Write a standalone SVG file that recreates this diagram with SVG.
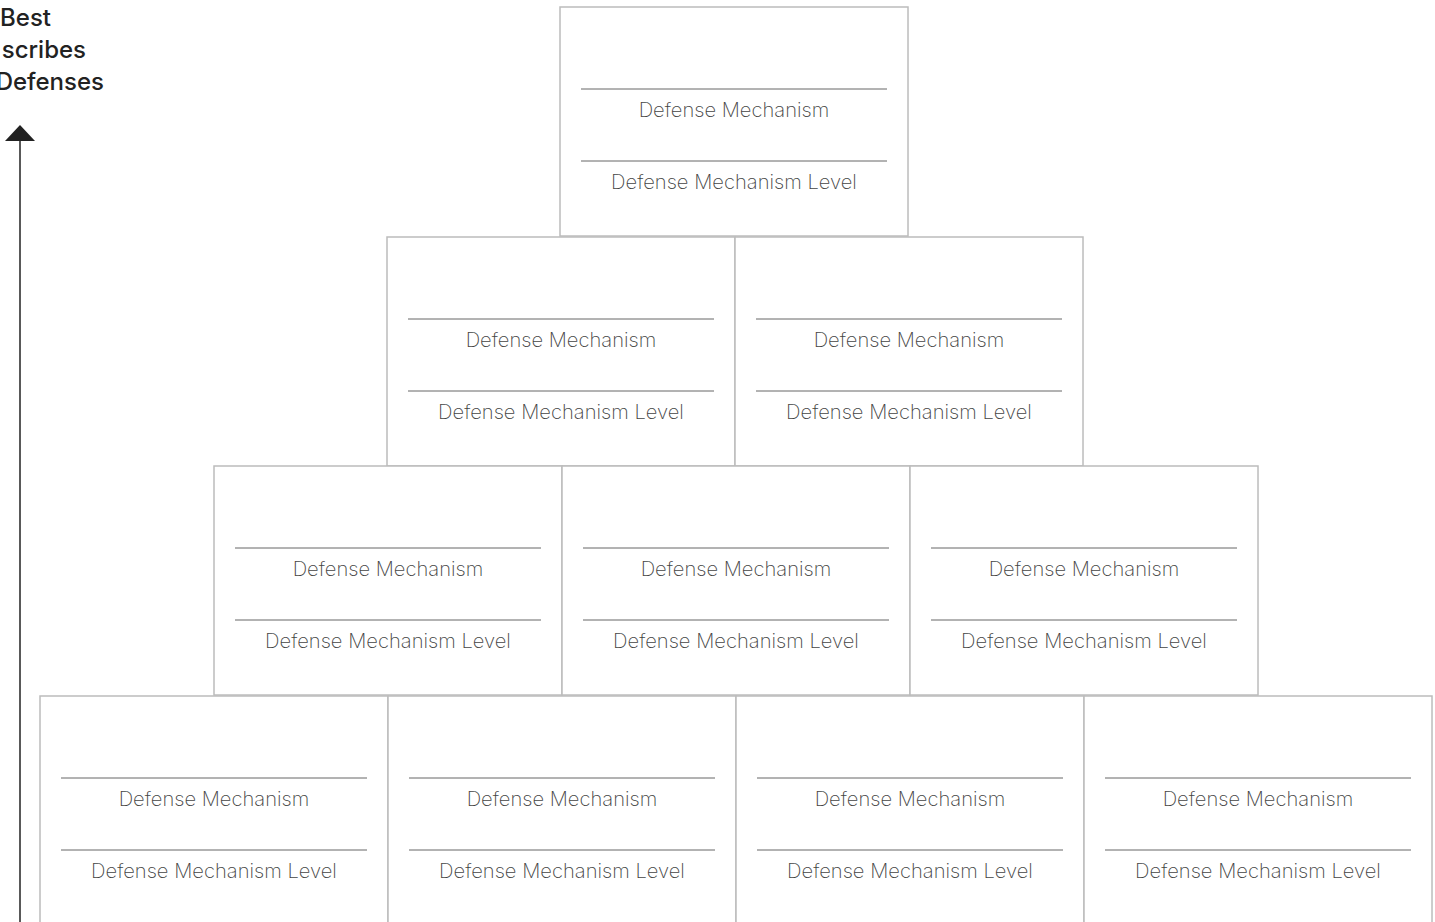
<svg xmlns="http://www.w3.org/2000/svg" width="1435" height="922" viewBox="0 0 1435 922">
<defs>
<style>
.box{fill:#fff;stroke:#bcbcbc;stroke-width:1.5}
.rule{stroke:#666;stroke-width:1}
.t{font-family:Inter,"Liberation Sans",sans-serif;font-weight:200;font-size:20.2px;fill:#444;text-anchor:middle}
.lbl{font-family:Inter,"Liberation Sans",sans-serif;font-weight:500;font-size:24px;fill:#222;text-anchor:end}
</style>
<symbol id="card" overflow="visible">
<rect class="box" x="0" y="0" width="348" height="229"/>
<line class="rule" x1="21" y1="82" x2="327" y2="82"/>
<text class="t" x="174" y="110">Defense Mechanism</text>
<line class="rule" x1="21" y1="154" x2="327" y2="154"/>
<text class="t" x="174" y="182">Defense Mechanism Level</text>
</symbol>
</defs>
<rect width="1435" height="922" fill="#fff"/>
<g id="axis-label">
<text class="lbl" x="51" y="26">Best</text>
<text class="lbl" x="86" y="58">scribes</text>
<text class="lbl" x="104" y="90">Defenses</text>
</g>
<g id="connectors">
<line x1="20" y1="138" x2="20" y2="922" stroke="#222" stroke-width="1.5"/>
<polygon points="20,125 35,141 5,141" fill="#222"/>
</g>
<g id="n1"><use href="#card" x="560" y="7"/></g>
<g id="n2"><use href="#card" x="387" y="237"/></g>
<g id="n3"><use href="#card" x="735" y="237"/></g>
<g id="n4"><use href="#card" x="214" y="466"/></g>
<g id="n5"><use href="#card" x="562" y="466"/></g>
<g id="n6"><use href="#card" x="910" y="466"/></g>
<g id="n7"><use href="#card" x="40" y="696"/></g>
<g id="n8"><use href="#card" x="388" y="696"/></g>
<g id="n9"><use href="#card" x="736" y="696"/></g>
<g id="n10"><use href="#card" x="1084" y="696"/></g>
</svg>
